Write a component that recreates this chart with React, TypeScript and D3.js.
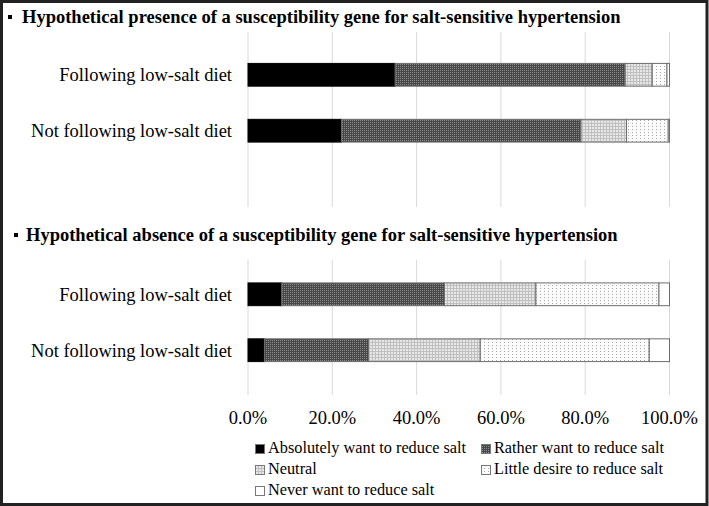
import { useMemo } from "react";
import { scaleBand, scaleLinear, stack } from "d3";

const categories = ["Following low-salt diet", "Not following low-salt diet"];
const seriesNames = [
  "Absolutely want to reduce salt",
  "Rather want to reduce salt",
  "Neutral",
  "Little desire to reduce salt",
  "Never want to reduce salt",
];
const presenceFollowing = [34.9, 54.6, 6.4, 3.5, 0.6];
const presenceNotFollowing = [22.2, 56.8, 10.8, 9.9, 0.3];
const absenceFollowing = [8.0, 38.6, 21.7, 29.2, 2.5];
const absenceNotFollowing = [3.9, 24.7, 26.5, 40.1, 4.8];
const xTicks = [0, 20, 40, 60, 80, 100];
const titles = [
  "Hypothetical presence of a susceptibility gene for salt-sensitive hypertension",
  "Hypothetical absence of a susceptibility gene for salt-sensitive hypertension",
];

const W = 709;
const H = 506;
const serif = "'Liberation Serif', 'Times New Roman', serif";
const fills = ["#000", "url(#pRather)", "url(#pNeutral)", "url(#pLittle)", "#fff"];

const x = scaleLinear().domain([0, 100]).range([248, 669.5]);

function buildRows(a: number[], b: number[]) {
  return [a, b].map((vals, i) => {
    const row: Record<string, number | string> = { cat: categories[i] };
    seriesNames.forEach((s, j) => (row[s] = vals[j]));
    return row;
  });
}

function Section({
  rows,
  y0,
  y1,
  gridTop,
  gridBottom,
}: {
  rows: Record<string, number | string>[];
  y0: number;
  y1: number;
  gridTop: number;
  gridBottom: number;
}) {
  const y = scaleBand<string>().domain(categories).range([y0, y1]).padding(0.593);
  const layers = useMemo(
    () => stack<Record<string, number | string>>().keys(seriesNames).value((d, k) => d[k] as number)(rows),
    [rows]
  );
  return (
    <g>
      {xTicks.map((t) => (
        <line key={t} x1={x(t)} x2={x(t)} y1={gridTop} y2={gridBottom} stroke="#d9d9d9" strokeWidth={1} />
      ))}
      {layers.map((layer, i) =>
        layer.map((seg) => {
          const cat = seg.data.cat as string;
          return (
            <rect
              key={`${i}-${cat}`}
              x={x(seg[0])}
              y={y(cat)}
              width={Math.max(0, x(seg[1]) - x(seg[0]))}
              height={y.bandwidth()}
              fill={fills[i]}
              stroke={i === 0 ? "#000" : "#6e6e6e"}
              strokeWidth={1}
            />
          );
        })
      )}
      {categories.map((c) => (
        <text
          key={c}
          x={232}
          y={(y(c) as number) + y.bandwidth() / 2 + 6.5}
          textAnchor="end"
          fontFamily={serif}
          fontSize={18.5}
          fill="#000"
        >
          {c}
        </text>
      ))}
    </g>
  );
}

export default function App() {
  const presenceRows = useMemo(() => buildRows(presenceFollowing, presenceNotFollowing), []);
  const absenceRows = useMemo(() => buildRows(absenceFollowing, absenceNotFollowing), []);

  return (
    <svg
      width={W}
      height={H}
      viewBox={`0 0 ${W} ${H}`}
      style={{ position: "absolute", left: 0, top: 0, background: "#fff" }}
    >
      <defs>
        <pattern id="pRather" width={2} height={2} patternUnits="userSpaceOnUse">
          <rect width={2} height={2} fill="#474747" shapeRendering="crispEdges" />
          <rect width={1} height={1} fill="#8e8e8e" shapeRendering="crispEdges" />
        </pattern>
        <pattern id="pNeutral" width={3} height={3} patternUnits="userSpaceOnUse">
          <rect width={3} height={3} fill="#e8e8e8" shapeRendering="crispEdges" />
          <rect width={3} height={1} fill="#bfbfbf" shapeRendering="crispEdges" />
          <rect width={1} height={3} fill="#bfbfbf" shapeRendering="crispEdges" />
        </pattern>
        <pattern id="pLittle" width={4} height={3} patternUnits="userSpaceOnUse">
          <rect width={4} height={3} fill="#fbfbfb" shapeRendering="crispEdges" />
          <rect width={1} height={1} fill="#a6a6a6" shapeRendering="crispEdges" />
        </pattern>
      </defs>

      <rect x={1.5} y={1.5} width={W - 3.5} height={H - 3} fill="#fff" stroke="#222" strokeWidth={3} />

      {/* section titles */}
      {titles.map((t, i) => (
        <g key={t}>
          <rect x={i === 0 ? 8 : 14} y={i === 0 ? 15 : 233} width={4} height={4} fill="#000" />
          <text x={i === 0 ? 22 : 26} y={i === 0 ? 23 : 241} fontFamily={serif} fontSize={18.5} fontWeight="bold" fill="#000">
            {t}
          </text>
        </g>
      ))}

      <Section rows={presenceRows} y0={30.25} y1={175.25} gridTop={32} gridBottom={207} />
      <Section rows={absenceRows} y0={249.75} y1={394.75} gridTop={260} gridBottom={395} />

      {/* x axis labels */}
      {xTicks.map((t) => (
        <text key={t} x={x(t)} y={424} textAnchor="middle" fontFamily={serif} fontSize={18.5} fill="#000">
          {`${t.toFixed(1)}%`}
        </text>
      ))}

      {/* legend */}
      {seriesNames.map((s, i) => {
        const col = i % 2;
        const row = Math.floor(i / 2);
        const lx = col === 0 ? 255 : 481;
        const ly = 453 + row * 21;
        return (
          <g key={s}>
            <rect x={lx + 0.5} y={ly - 8.5} width={9} height={9} fill={fills[i]} stroke="#777" strokeWidth={1} />
            <text x={lx + 13} y={ly} fontFamily={serif} fontSize={16.3} fill="#000">
              {s}
            </text>
          </g>
        );
      })}
    </svg>
  );
}
